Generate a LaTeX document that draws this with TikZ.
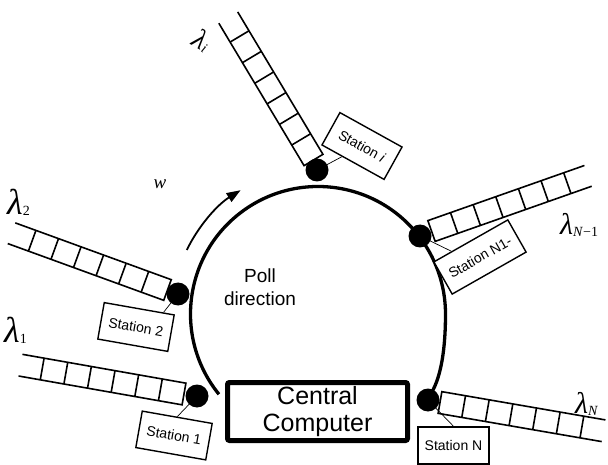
\documentclass[tikz,border=0pt]{standalone}
\usepackage{fontspec}
\setmainfont{Liberation Sans}
\newfontfamily\rateface{Liberation Serif}
\usetikzlibrary{arrows.meta,calc}

% one waiting line: closed end at the base point, six cells, open far end
\newcommand\drawqueue[2]{%
  \begin{scope}[shift={#1},rotate=#2]
    \draw[qline] (166,-11) -- (0,-11) -- (0,11) -- (166,11);
    \foreach \k in {1,...,6} \draw[qline] (\k*24,-11) -- (\k*24,11);
  \end{scope}}

% arrival rate: serif lambda with a small lowered index
\newcommand\rate[2][36]{{\rateface\fontsize{#1}{#1}\selectfont\itshape λ}%
  \raisebox{-0.12em}{\rateface\fontsize{14}{14}\selectfont #2}}

\begin{document}
\begin{tikzpicture}[x=1pt,y=-1pt,
  ring/.style={line width=3.3pt},
  qline/.style={line width=1.6pt,line join=miter},
  dot/.style={circle,fill=black,inner sep=0pt,minimum size=23pt},
  station/.style={draw,fill=white,line width=1.4pt,minimum width=71pt,
    minimum height=37pt,inner sep=0pt,font=\fontsize{14}{14}\selectfont},
  link/.style={line width=0.7pt},
  lam/.style={inner sep=0pt}
]
\useasboundingbox (0,0) rectangle (608,465);

% the polling ring
\draw[ring] (318,314) ++(141:127.5) arc[start angle=141,end angle=360,radius=127.5]
  .. controls (445.5,345) and (442,380) .. (428,398);

% poll direction arrow
\draw[line width=1.8pt,-{Triangle[length=14pt,width=10pt]}]
  (318,314) ++(206:146) arc[start angle=206,end angle=238,radius=146];

% waiting lines
\drawqueue{(184,394)}{170}
\drawqueue{(167.5,290)}{160}
\drawqueue{(313.5,160)}{120.9}
\drawqueue{(431.5,231)}{19.4}
\drawqueue{(440,402.5)}{-9.8}

% stations
\node[station,rotate=-10] (s1) at (174,435.5) {Station 1};
\node[station,rotate=-10] (s2) at (136,327) {Station 2};
\node[station,rotate=-29] (si) at (362,146) {Station \textit{i}};
\node[station,rotate=29.6,minimum width=85pt] (sn1) at (480,257) {Station N1-};
\node[station] (sN) at (453.5,445.5) {Station N};

% station taps on the ring
\node[dot] (d1) at (197,396) {};
\node[dot] (d2) at (178,294) {};
\node[dot] (di) at (317,170) {};
\node[dot] (dn1) at (420,236) {};
\node[dot] (dN) at (428,400) {};

\draw[link] (d1.center) -- (s1.north);
\draw[link] (d2.center) -- (s2.38);
\draw[link] (di.center) -- (si.237);
\draw[link] (dn1.center) -- (sn1.139);
\draw[link] (dN.center) -- (sN.north);

% central computer
\node[draw,fill=white,line width=5pt,rounded corners=2pt,minimum width=180pt,
  minimum height=58pt,align=center,font=\fontsize{25}{27}\selectfont]
  (cc) at (317.5,411.5) {Central\\Computer};

\node[align=center,font=\fontsize{19}{23}\selectfont] (poll) at (260,287)
  {Poll\\direction};

\node[font=\rateface\itshape\fontsize{19}{19}\selectfont] (w) at (160,184) {w};

% arrival rates
\node[lam,anchor=west] (l1) at (4,330) {\rate{1}};
\node[lam,anchor=west] (l2) at (7,202) {\rate{2}};
\node[lam,rotate=-30] (li) at (202,40) {\rate[28]{\textit{i}}};
\node[lam,anchor=west] (ln1) at (560,225) {\rate[30]{\textit{N}−1}};
\node[lam,anchor=west] (lN) at (575,404) {\rate[30]{\textit{N}}};
\end{tikzpicture}
\end{document}
